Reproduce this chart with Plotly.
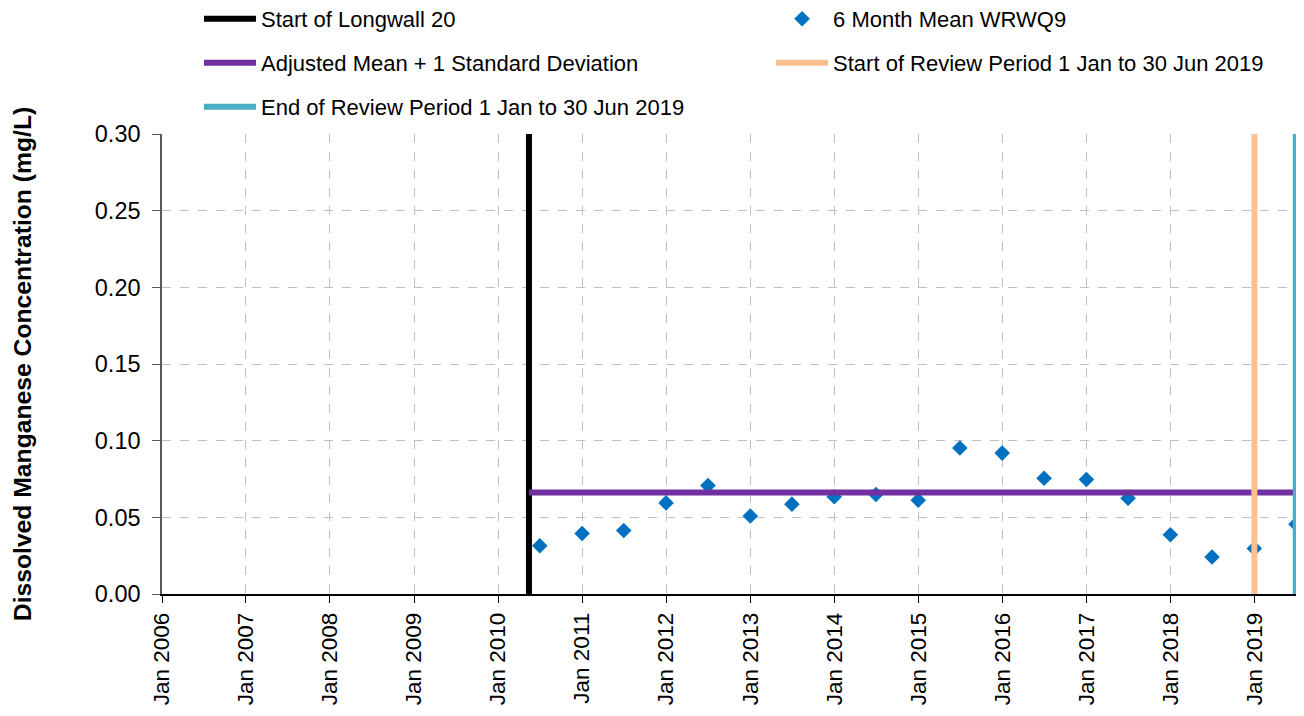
import plotly.graph_objects as go

# ---- data ----
mean_dates = ["2010-07-01", "2011-01-01", "2011-07-01", "2012-01-01", "2012-07-01",
              "2013-01-01", "2013-07-01", "2014-01-01", "2014-07-01", "2015-01-01",
              "2015-07-01", "2016-01-01", "2016-07-01", "2017-01-01", "2017-07-01",
              "2018-01-01", "2018-07-01", "2019-01-01", "2019-07-01"]
mean_values = [0.0315, 0.0395, 0.0414, 0.0594, 0.0707,
               0.0509, 0.0586, 0.0634, 0.0649, 0.0611,
               0.0952, 0.0919, 0.0755, 0.0747, 0.0624,
               0.0386, 0.0241, 0.0297, 0.0455]

longwall_start = "2010-05-15"
adjusted_mean_sd = 0.0662
adjusted_range = ["2010-05-15", "2019-06-30"]
review_start = "2019-01-01"
review_end = "2019-06-30"
y_span = [0, 0.3]

x_range = ["2006-01-01", "2019-07-01"]
y_ticks = [0.0, 0.05, 0.10, 0.15, 0.20, 0.25, 0.30]
y_ticklabels = ["0.00", "0.05", "0.10", "0.15", "0.20", "0.25", "0.30"]

FONT = "Arial, Liberation Sans, sans-serif"

fig = go.Figure()

fig.add_trace(go.Scatter(
    x=[longwall_start, longwall_start], y=y_span, mode="lines",
    line=dict(color="#000000", width=6), name="Start of Longwall 20",
    legend="legend", showlegend=True))
fig.add_trace(go.Scatter(
    x=mean_dates, y=mean_values, mode="markers",
    marker=dict(symbol="diamond", size=12, color="#0070C0"),
    name="6 Month Mean WRWQ9", cliponaxis=False, legend="legend2"))
fig.add_trace(go.Scatter(
    x=adjusted_range, y=[adjusted_mean_sd, adjusted_mean_sd], mode="lines",
    line=dict(color="#7030A0", width=6), name="Adjusted Mean + 1 Standard Deviation",
    legend="legend3"))
fig.add_trace(go.Scatter(
    x=[review_start, review_start], y=y_span, mode="lines",
    line=dict(color="#FAC090", width=6), name="Start of Review Period 1 Jan to 30 Jun 2019",
    legend="legend4"))
fig.add_trace(go.Scatter(
    x=[review_end, review_end], y=y_span, mode="lines",
    line=dict(color="#4BACC6", width=6), name="End of Review Period 1 Jan to 30 Jun 2019",
    legend="legend5", cliponaxis=False))

leg_common = dict(orientation="h", xanchor="left", yanchor="middle",
                  font=dict(family=FONT, size=22, color="#000000"),
                  bgcolor="rgba(0,0,0,0)", itemwidth=52)

COL1, COL2 = 0.0326, 0.5371
ROW1, ROW2, ROW3 = 1.25, 1.1543, 1.0587

fig.update_layout(
    width=1288, height=700,
    showlegend=True,
    margin=dict(l=154, r=0, t=126, b=114, autoexpand=False),
    paper_bgcolor="white", plot_bgcolor="white",
    font=dict(family=FONT, color="#000000"),
    legend=dict(leg_common, x=COL1, y=ROW1),
    legend2=dict(leg_common, x=COL2, y=ROW1),
    legend3=dict(leg_common, x=COL1, y=ROW2),
    legend4=dict(leg_common, x=COL2, y=ROW2),
    legend5=dict(leg_common, x=COL1, y=ROW3),
    xaxis=dict(
        type="date", range=x_range, tick0="2006-01-01", dtick="M12",
        tickformat="%b %Y", tickangle=-90,
        tickfont=dict(family=FONT, size=22.5, color="#000000"),
        ticklabelstandoff=1,
        showgrid=True, gridcolor="#BFBFBF", griddash="dash", gridwidth=1,
        showline=True, linecolor="#000000", linewidth=1.5,
        ticks="outside", ticklen=7, tickcolor="#000000",
        zeroline=False),
    yaxis=dict(
        range=[0, 0.3], tickvals=y_ticks, ticktext=y_ticklabels,
        tickfont=dict(family=FONT, size=23.5, color="#000000"),
        ticklabelstandoff=7,
        showgrid=True, gridcolor="#BFBFBF", griddash="dash", gridwidth=1,
        showline=True, linecolor="#595959", linewidth=1.5,
        ticks="outside", ticklen=8, tickcolor="#595959",
        zeroline=False,
        title=dict(text="<b>Dissolved Manganese Concentration (mg/L)</b>",
                   font=dict(family=FONT, size=24.7, color="#000000"),
                   standoff=56)),
)

fig.write_html("out.html")
